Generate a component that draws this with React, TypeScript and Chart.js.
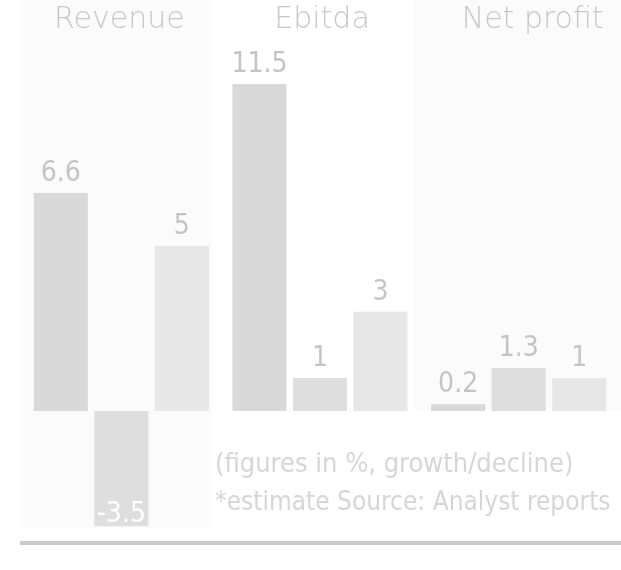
import React, { useEffect, useRef } from 'react';
import { Chart, registerables } from 'chart.js';

Chart.register(...registerables);

const categories = ['Revenue', 'Ebitda', 'Net profit'];
const seriesA = [6.6, 11.5, 0.2];
const seriesB = [-3.5, 1, 1.3];
const seriesC = [5, 3, 1];
const footnotes = ['(figures in %, growth/decline)', '*estimate Source: Analyst reports'];

const barColors = ['#d9d9d9', '#dedede', '#e7e7e7'];
const titleOffsets = [-2, 2, 14];

const W = 621;
const H = 570;

const decorPlugin = {
  id: 'decor',
  beforeDraw(chart: any) {
    const ctx = chart.ctx;
    ctx.save();
    ctx.fillStyle = '#ffffff';
    ctx.fillRect(0, 0, chart.width, chart.height);
    ctx.fillStyle = '#fbfbfb';
    ctx.fillRect(20, 0, 192, 528);
    ctx.fillRect(415, 0, chart.width - 415, 410);
    ctx.restore();
  },
  afterDatasetsDraw(chart: any) {
    const ctx = chart.ctx;
    const area = chart.chartArea;
    ctx.save();
    ctx.textAlign = 'center';
    ctx.textBaseline = 'alphabetic';
    ctx.font = '28px "DejaVu Sans Condensed", "DejaVu Sans"';
    chart.data.datasets.forEach((ds: any, di: number) => {
      const meta = chart.getDatasetMeta(di);
      meta.data.forEach((el: any, i: number) => {
        const v = ds.data[i];
        const txt = String(v);
        if (v < 0) {
          ctx.fillStyle = '#ffffff';
          ctx.fillText(txt, el.x, Math.max(el.y, el.base) - 5);
        } else {
          ctx.fillStyle = '#c4c4c4';
          const top = Math.max(el.y, area.top);
          ctx.fillText(txt, el.x, top - 12);
        }
      });
    });
    ctx.restore();
  },
  afterDraw(chart: any) {
    const ctx = chart.ctx;
    const xs = chart.scales.x;
    ctx.save();
    ctx.textAlign = 'center';
    ctx.textBaseline = 'alphabetic';
    ctx.fillStyle = '#c8c8c8';
    ctx.font = '200 30px "DejaVu Sans"';
    categories.forEach((c, i) => {
      ctx.fillText(c, xs.getPixelForValue(i) + titleOffsets[i], 28);
    });
    ctx.textAlign = 'left';
    ctx.fillStyle = '#d6d6d6';
    ctx.font = '27px "DejaVu Sans Condensed", "DejaVu Sans"';
    ctx.fillText(footnotes[0], 215, 472);
    ctx.font = '26px "DejaVu Sans Condensed", "DejaVu Sans"';
    ctx.fillText(footnotes[1], 215, 510);
    ctx.strokeStyle = '#c9c9c9';
    ctx.lineWidth = 4;
    ctx.beginPath();
    ctx.moveTo(20, 543);
    ctx.lineTo(chart.width, 543);
    ctx.stroke();
    ctx.restore();
  },
};

export default function App() {
  const ref = useRef<HTMLCanvasElement | null>(null);
  useEffect(() => {
    document.body.style.margin = '0';
    if (!ref.current) return;
    const mk = (data: number[], color: string) => ({
      data,
      backgroundColor: color,
      borderWidth: 0,
      clip: 0,
      categoryPercentage: 0.914,
      barPercentage: 0.893,
    });
    const chart = new Chart(ref.current, {
      type: 'bar',
      data: {
        labels: categories,
        datasets: [mk(seriesA, barColors[0]), mk(seriesB, barColors[1]), mk(seriesC, barColors[2])],
      },
      options: {
        animation: false,
        responsive: true,
        maintainAspectRatio: false,
        layout: { padding: { left: 22, right: 3, top: 84, bottom: 43.5 } },
        plugins: { legend: { display: false }, tooltip: { enabled: false } },
        scales: {
          x: { display: false },
          y: { display: false, min: -3.5, max: 9.9 },
        },
      },
      plugins: [decorPlugin],
    } as any);
    return () => chart.destroy();
  }, []);
  return (
    <div style={{ width: W, height: H, position: 'relative' }}>
      <canvas ref={ref} />
    </div>
  );
}
